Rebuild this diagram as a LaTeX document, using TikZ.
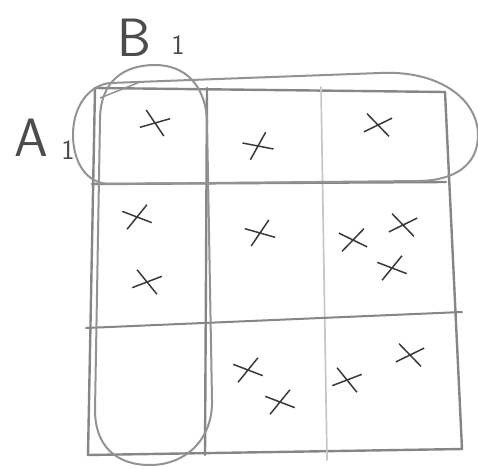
\documentclass[tikz,border=0pt]{standalone}
\usetikzlibrary{shapes.misc}
\begin{document}
\begin{tikzpicture}[x=1pt,y=-1pt,
  gridline/.style={draw=gray!95, line width=2.4pt, line cap=round},
  lightline/.style={draw=gray!45, line width=1.7pt, line cap=round},
  loopline/.style={draw=gray!85, line width=2pt},
  xmark/.style={cross out, draw=gray!45!black, line width=1.5pt, minimum width=24pt, minimum height=17pt, inner sep=0pt},
  lbl/.style={text=gray!60!black, font=\sffamily\fontsize{54}{54}\selectfont, inner sep=0pt},
  sublbl/.style={text=gray!60!black, font=\sffamily\fontsize{28}{28}\selectfont, inner sep=0pt}]
\useasboundingbox (0,0) rectangle (478,468);
% grid corners
\coordinate (tl) at (95,88);
\coordinate (t1) at (207,88);
\coordinate (t2) at (321,87);
\coordinate (tr) at (445,92);
\coordinate (m1l) at (92,184);
\coordinate (m1r) at (446,182);
\coordinate (m2l) at (86,328);
\coordinate (m2r) at (462,312);
\coordinate (bl) at (88,455);
\coordinate (b1) at (205,455);
\coordinate (b2) at (327,460);
\coordinate (br) at (462,449);
% grid
\draw[gridline] (tl) -- (tr) -- (br) -- (bl) -- cycle;
\draw[gridline] (t1) -- (b1);
\draw[lightline] (t2) -- (b2);
\draw[gridline] (m1l) -- (m1r);
\draw[gridline, line width=2pt] (m2l) -- (m2r);
% A1 loop
\draw[loopline] (110,83) -- (380,73) .. controls (440,70) and (478,100) .. (478,135)
  .. controls (478,165) and (455,180) .. (420,181) -- (110,184)
  .. controls (85,184) and (73,160) .. (73,135) .. controls (73,105) and (90,85) .. (110,83) -- cycle;
\draw[loopline, line width=1.5pt] (100,98) -- (140,82);
% B1 loop
\draw[loopline] (100,120) .. controls (100,80) and (125,65) .. (155,65)
  .. controls (185,65) and (205,85) .. (207,120) -- (212,400)
  .. controls (213,440) and (185,465) .. (150,465)
  .. controls (115,465) and (95,445) .. (95,410) -- cycle;
% labels
\node[lbl] (A) at (31,138) {A};
\node[sublbl] (A1) at (68,150) {1};
\node[lbl] (B) at (134,38) {B};
\node[sublbl] (B1) at (178,45) {1};
% marks
\node[xmark, rotate=-20] (x1) at (155,123) {};
\node[xmark, rotate=25] (x2) at (258,146) {};
\node[xmark, rotate=-10] (x3) at (378,125) {};
\node[xmark, rotate=15] (x4) at (137,217) {};
\node[xmark, rotate=-15] (x5) at (147,282) {};
\node[xmark, rotate=20] (x6) at (260,233) {};
\node[xmark, rotate=10] (x7) at (353,240) {};
\node[xmark, rotate=-10] (x8) at (403,225) {};
\node[xmark, rotate=15] (x9) at (392,268) {};
\node[xmark, rotate=15] (x10) at (248,370) {};
\node[xmark, rotate=15] (x11) at (280,402) {};
\node[xmark, rotate=-15] (x12) at (347,380) {};
\node[xmark, rotate=-10] (x13) at (410,355) {};
\end{tikzpicture}
\end{document}
